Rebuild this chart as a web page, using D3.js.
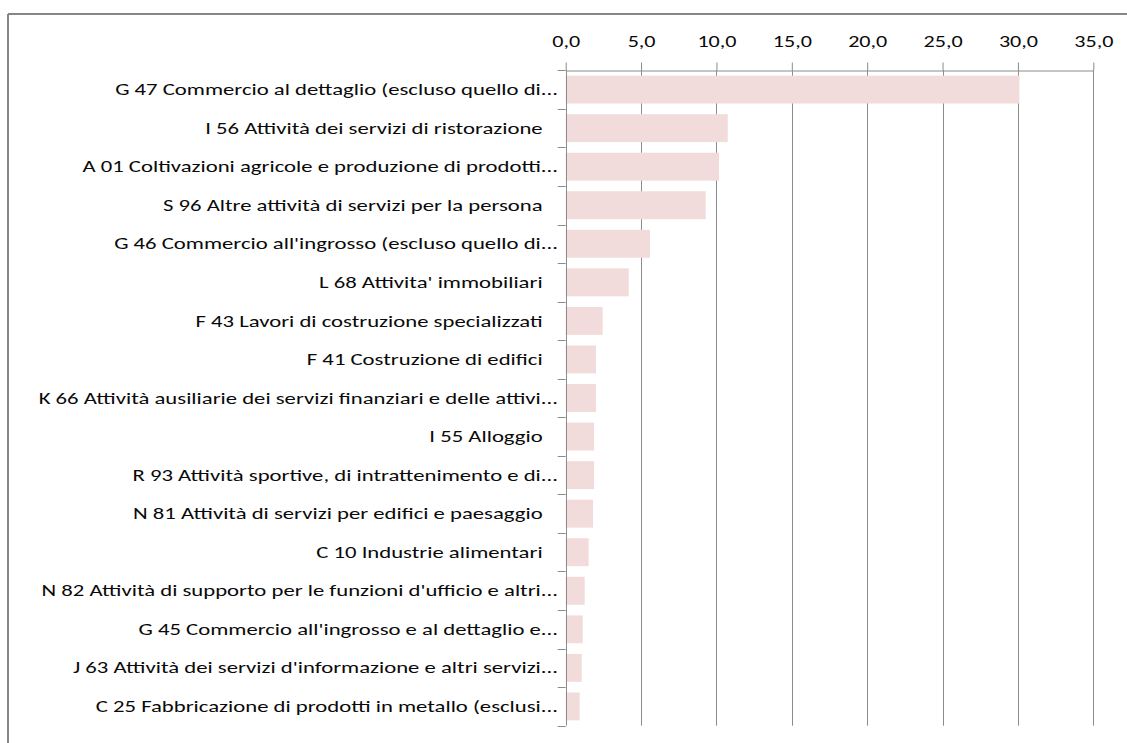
<!DOCTYPE html>
<html>
<head>
<meta charset="utf-8">
<script src="https://cdn.jsdelivr.net/npm/d3@7"></script>
<style>
  body { margin: 0; background: #fff; }
  svg { display: block; }
  .cat { font-family: Carlito, Lato, "Open Sans", sans-serif; font-size: 16px; fill: #0a0a0a; white-space: pre; }
  .tick-lbl { font-family: Carlito, Lato, "Open Sans", sans-serif; font-size: 16px; fill: #0a0a0a; }
</style>
</head>
<body>
<svg id="chart" width="1127" height="743"></svg>
<script>
var svg = d3.select('#chart')

// labels as exported (short ones carry trailing blanks)
var categories = [
  "G 47 Commercio al dettaglio (escluso quello di...",
  "I 56 Attività dei servizi di ristorazione   ",
  "A 01 Coltivazioni agricole e produzione di prodotti...",
  "S 96 Altre attività di servizi per la persona   ",
  "G 46 Commercio all'ingrosso (escluso quello di...",
  "L 68 Attivita' immobiliari   ",
  "F 43 Lavori di costruzione specializzati   ",
  "F 41 Costruzione di edifici   ",
  "K 66 Attività ausiliarie dei servizi finanziari e delle attivi...",
  "I 55 Alloggio   ",
  "R 93 Attività sportive, di intrattenimento e di...",
  "N 81 Attività di servizi per edifici e paesaggio   ",
  "C 10 Industrie alimentari   ",
  "N 82 Attività di supporto per le funzioni d'ufficio e altri...",
  "G 45 Commercio all'ingrosso e al dettaglio e...",
  "J 63 Attività dei servizi d'informazione e altri servizi...",
  "C 25 Fabbricazione di prodotti in metallo (esclusi..."
];

var values = [30.1, 10.75, 10.17, 9.29, 5.59, 4.18, 2.45, 2.01, 2.01, 1.88, 1.88, 1.81, 1.52, 1.26, 1.13, 1.06, 0.93];

var tickValues = [0, 5, 10, 15, 20, 25, 30, 35];

var plotLeft = 565.7, plotRight = 1093.3, plotTop = 70.3, plotBottom = 725.7;
var gridColor = "#8c8c8c";
// the reference text is wide-set
var catStretch = 1.42, tickStretch = 1.38;

var x = d3.scaleLinear().domain([0, 35]).range([plotLeft, plotRight]);
var y = d3.scaleBand()
    .domain(categories)
    .range([plotTop, plotBottom])
    .paddingInner(0.275)
    .paddingOuter(0.1375);

// outer frame (only left and top edges are in view)
svg.append("line")
    .attr("x1", 8).attr("y1", 14).attr("x2", 8).attr("y2", 743)
    .attr("stroke", "#868686").attr("stroke-width", 2)
svg.append("line")
    .attr("x1", 8).attr("y1", 14).attr("x2", 1127).attr("y2", 14)
    .attr("stroke", "#868686").attr("stroke-width", 2)

// vertical gridlines
svg.append("g").selectAll("line")
    .data(tickValues.slice(1))
    .enter()
    .append("line")
    .attr("x1", function (d) { return Math.round(x(d)) + 0.5 })
    .attr("x2", function (d) { return Math.round(x(d)) + 0.5 })
    .attr("y1", plotTop)
    .attr("y2", plotBottom)
    .attr("stroke", gridColor)

// bars
svg.append("g").selectAll("rect")
    .data(values)
    .enter()
    .append("rect")
    .attr("x", x(0))
    .attr("y", function (d, i) { return y(categories[i]) })
    .attr("width", function (d) { return x(d) - x(0) })
    .attr("height", y.bandwidth())
    .attr("fill", "#f2dcdb")

// top axis
var xAxis = d3.axisTop(x)
    .tickValues(tickValues)
    .tickSizeInner(8)
    .tickSizeOuter(0)
    .tickPadding(16)
    .tickFormat(function (d) { return d3.format(".1f")(d).replace(".", ",") })

var gx = svg.append("g")
    .attr("transform", "translate(0," + (Math.round(plotTop) + 0.5) + ")")
    .call(xAxis)
gx.attr("font-family", null).attr("font-size", null)
gx.selectAll("path, line").attr("stroke", gridColor)
gx.selectAll("text")
    .attr("class", "tick-lbl")
    .attr("fill", null)
    .attr("transform", "scale(" + tickStretch + ",1)")

// left axis line with boundary ticks
var step = y.step();
var bounds = d3.range(categories.length + 1).map(function (i) { return plotTop + i * step })
svg.append("line")
    .attr("x1", Math.round(plotLeft) + 0.5).attr("x2", Math.round(plotLeft) + 0.5)
    .attr("y1", plotTop).attr("y2", plotBottom)
    .attr("stroke", gridColor)
svg.append("g").selectAll("line")
    .data(bounds)
    .enter()
    .append("line")
    .attr("x1", plotLeft - 8)
    .attr("x2", plotLeft)
    .attr("y1", function (d) { return Math.round(d) + 0.5 })
    .attr("y2", function (d) { return Math.round(d) + 0.5 })
    .attr("stroke", gridColor)

// category labels
svg.append("g").selectAll("text")
    .data(categories)
    .enter()
    .append("text")
    .attr("class", "cat")
    .attr("x", 0)
    .attr("y", 0)
    .attr("dy", "0.35em")
    .attr("text-anchor", "end")
    .attr("transform", function (d) {
        return "translate(558," + (y(d) + y.bandwidth() / 2) + ") scale(" + catStretch + ",1)"
    })
    .text(function (d) { return d })
</script>
</body>
</html>
